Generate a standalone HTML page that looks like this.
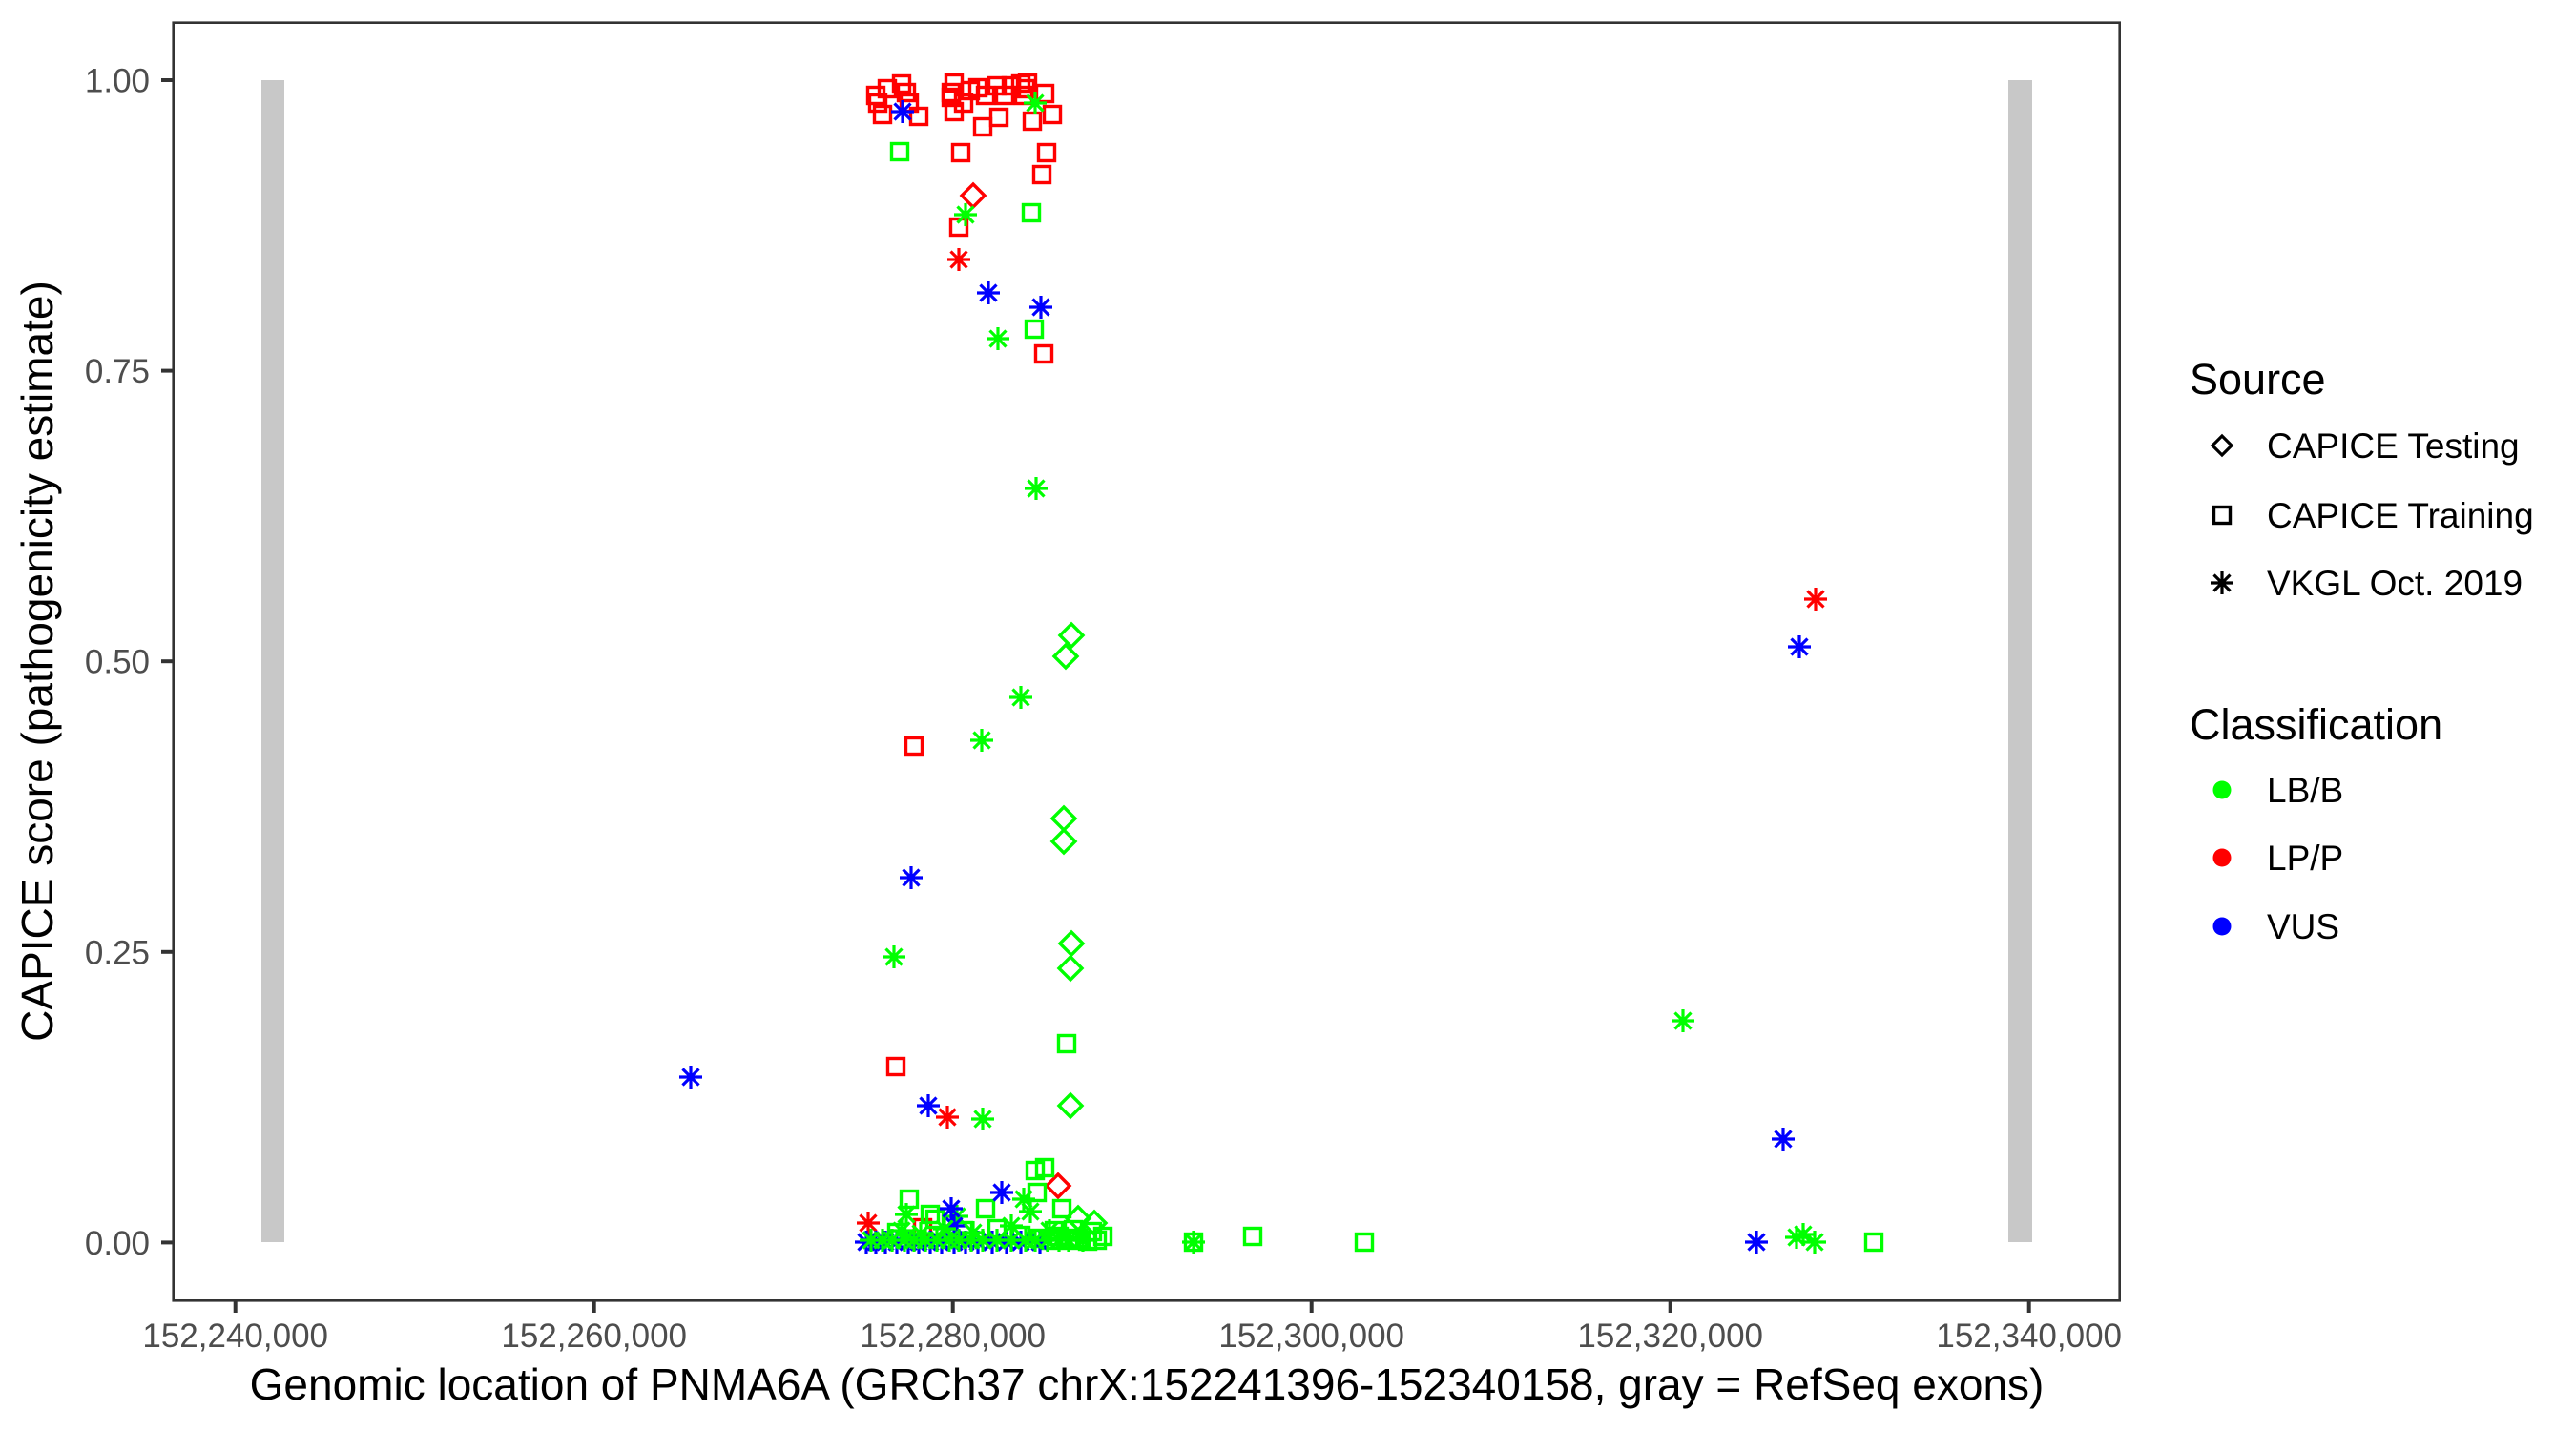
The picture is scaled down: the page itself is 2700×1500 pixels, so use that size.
<!DOCTYPE html>
<html><head><meta charset="utf-8"><style>
html,body{margin:0;padding:0;background:#fff;}
svg{display:block;}
text{font-family:"Liberation Sans",Arial,sans-serif;}
</style></head><body>
<svg width="2700" height="1500" viewBox="0 0 2700 1500" xmlns="http://www.w3.org/2000/svg">
<defs>
<rect id="sq" x="-8.5" y="-8.5" width="17" height="17" fill="none" stroke-width="3.4"/>
<path id="di" d="M0,-12 L12,0 L0,12 L-12,0 Z" fill="none" stroke-width="3.4"/>
<path id="as" d="M0,-12V12M-12,0H12M-8.5,-8.5L8.5,8.5M-8.5,8.5L8.5,-8.5" fill="none" stroke-width="3.2"/>
</defs>
<rect width="2700" height="1500" fill="#fff"/>
<rect x="274" y="84" width="24" height="1218" fill="#c8c8c8"/>
<rect x="2105" y="84" width="25" height="1218" fill="#c8c8c8"/>

<g stroke="#ff0000">
<use href="#sq" x="918" y="100"/><use href="#sq" x="930" y="93"/><use href="#sq" x="945" y="88"/><use href="#sq" x="950" y="97"/>
<use href="#sq" x="920" y="108"/><use href="#sq" x="925" y="120"/><use href="#sq" x="953" y="108"/><use href="#sq" x="963" y="122"/>
<use href="#sq" x="1000" y="87"/><use href="#sq" x="997" y="97"/><use href="#sq" x="1000" y="117"/><use href="#sq" x="1010" y="108"/>
<use href="#sq" x="1025" y="92"/><use href="#sq" x="1033" y="100"/><use href="#sq" x="1045" y="90"/><use href="#sq" x="1030" y="133"/>
<use href="#sq" x="1047" y="123"/><use href="#sq" x="1060" y="90"/><use href="#sq" x="1070" y="88"/><use href="#sq" x="1077" y="87"/>
<use href="#sq" x="1095" y="98"/><use href="#sq" x="1082" y="127"/><use href="#sq" x="1103" y="120"/><use href="#sq" x="1007" y="160"/>
<use href="#sq" x="1097" y="160"/><use href="#sq" x="1092" y="183"/><use href="#sq" x="1005" y="238"/><use href="#sq" x="1017" y="95"/>
<use href="#sq" x="1053" y="100"/><use href="#sq" x="1073" y="100"/><use href="#sq" x="997" y="102"/><use href="#sq" x="1075" y="93"/>
<use href="#sq" x="1094" y="371"/><use href="#sq" x="958" y="782"/><use href="#sq" x="939" y="1118"/><use href="#sq" x="967" y="1287"/>
<use href="#di" x="1020" y="205"/><use href="#di" x="1109" y="1243"/>
<use href="#as" x="1005" y="272"/><use href="#as" x="993" y="1171"/><use href="#as" x="910" y="1282"/><use href="#as" x="1903" y="628"/>
</g>

<g stroke="#00ff00">
<use href="#sq" x="943" y="159"/><use href="#sq" x="1081" y="223"/><use href="#sq" x="1084" y="345"/><use href="#sq" x="1118" y="1094"/>
<use href="#sq" x="1085" y="1227"/><use href="#sq" x="1095" y="1224"/><use href="#sq" x="1087" y="1250"/><use href="#sq" x="953" y="1257"/>
<use href="#sq" x="1033" y="1267"/><use href="#sq" x="1113" y="1267"/><use href="#sq" x="975" y="1273"/><use href="#sq" x="980" y="1278"/>
<use href="#sq" x="1090" y="1298"/><use href="#sq" x="1100" y="1300"/><use href="#sq" x="1110" y="1296"/><use href="#sq" x="1120" y="1300"/>
<use href="#sq" x="1130" y="1298"/><use href="#sq" x="1140" y="1301"/><use href="#sq" x="1150" y="1300"/><use href="#sq" x="1156" y="1296"/>
<use href="#sq" x="1105" y="1290"/><use href="#sq" x="1125" y="1289"/><use href="#sq" x="1145" y="1291"/><use href="#sq" x="940" y="1292"/>
<use href="#sq" x="1010" y="1290"/><use href="#sq" x="1045" y="1288"/><use href="#sq" x="1070" y="1295"/>
<use href="#sq" x="1251" y="1302"/><use href="#sq" x="1313" y="1296"/><use href="#sq" x="1430" y="1302"/><use href="#sq" x="1964" y="1302"/>
<use href="#di" x="1123" y="666"/><use href="#di" x="1117" y="688"/><use href="#di" x="1115" y="858"/><use href="#di" x="1115" y="882"/>
<use href="#di" x="1123" y="989"/><use href="#di" x="1122" y="1015"/><use href="#di" x="1122" y="1159"/><use href="#di" x="1130" y="1277"/>
<use href="#di" x="1147" y="1282"/>
<use href="#as" x="1085" y="108"/><use href="#as" x="1012" y="225"/><use href="#as" x="1046" y="355"/><use href="#as" x="1086" y="512"/>
<use href="#as" x="1070" y="731"/><use href="#as" x="1029" y="776"/><use href="#as" x="937" y="1003"/><use href="#as" x="1030" y="1173"/>
<use href="#as" x="1073" y="1257"/><use href="#as" x="950" y="1273"/><use href="#as" x="1003" y="1275"/><use href="#as" x="1764" y="1070"/>
<use href="#as" x="1251" y="1302"/><use href="#as" x="1883" y="1297"/><use href="#as" x="1890" y="1294"/><use href="#as" x="1902" y="1302"/>
</g>
<g stroke="#0000ff">
<use href="#as" x="908" y="1302"/><use href="#as" x="918" y="1302"/><use href="#as" x="928" y="1302"/><use href="#as" x="940" y="1302"/>
<use href="#as" x="952" y="1302"/><use href="#as" x="963" y="1302"/><use href="#as" x="975" y="1302"/><use href="#as" x="987" y="1302"/>
<use href="#as" x="1000" y="1302"/><use href="#as" x="1012" y="1302"/><use href="#as" x="1025" y="1302"/><use href="#as" x="1040" y="1302"/>
<use href="#as" x="1055" y="1302"/><use href="#as" x="1070" y="1302"/><use href="#as" x="1090" y="1302"/><use href="#as" x="1000" y="1285"/>
</g>
<g stroke="#00ff00">
<use href="#as" x="913" y="1300"/><use href="#as" x="925" y="1300"/><use href="#as" x="935" y="1300"/><use href="#as" x="948" y="1300"/>
<use href="#as" x="958" y="1300"/><use href="#as" x="970" y="1300"/><use href="#as" x="982" y="1300"/><use href="#as" x="995" y="1300"/>
<use href="#as" x="1005" y="1300"/><use href="#as" x="1018" y="1300"/><use href="#as" x="1030" y="1300"/><use href="#as" x="1045" y="1300"/>
<use href="#as" x="1060" y="1300"/><use href="#as" x="1075" y="1300"/><use href="#as" x="1085" y="1300"/><use href="#as" x="1098" y="1300"/>
<use href="#as" x="1110" y="1300"/><use href="#as" x="1120" y="1300"/><use href="#as" x="1135" y="1300"/>
<use href="#as" x="945" y="1290"/><use href="#as" x="990" y="1288"/><use href="#as" x="1060" y="1285"/><use href="#as" x="1080" y="1270"/>
<use href="#as" x="965" y="1293"/><use href="#as" x="1020" y="1292"/><use href="#as" x="1100" y="1290"/>
</g>
<g stroke="#0000ff">
<use href="#as" x="946" y="117"/><use href="#as" x="1036" y="307"/><use href="#as" x="1091" y="322"/><use href="#as" x="955" y="920"/>
<use href="#as" x="724" y="1129"/><use href="#as" x="973" y="1159"/><use href="#as" x="1050" y="1250"/><use href="#as" x="997" y="1267"/>
<use href="#as" x="1886" y="678"/><use href="#as" x="1869" y="1194"/><use href="#as" x="1841" y="1302"/>
</g>

<rect x="181.7" y="23.7" width="2040" height="1339.6" fill="none" stroke="#333" stroke-width="2.6"/>

<g stroke="#333" stroke-width="4">
<line x1="169" x2="181" y1="84" y2="84"/><line x1="169" x2="181" y1="388.6" y2="388.6"/>
<line x1="169" x2="181" y1="693.2" y2="693.2"/><line x1="169" x2="181" y1="997.8" y2="997.8"/>
<line x1="169" x2="181" y1="1302.4" y2="1302.4"/>
<line x1="246.7" x2="246.7" y1="1364" y2="1376"/><line x1="622.7" x2="622.7" y1="1364" y2="1376"/>
<line x1="998.7" x2="998.7" y1="1364" y2="1376"/><line x1="1374.7" x2="1374.7" y1="1364" y2="1376"/>
<line x1="1750.7" x2="1750.7" y1="1364" y2="1376"/><line x1="2126.7" x2="2126.7" y1="1364" y2="1376"/>
</g>
<g fill="#4d4d4d" font-size="35" text-anchor="end">
<text x="157" y="96.5">1.00</text><text x="157" y="401">0.75</text><text x="157" y="705.7">0.50</text>
<text x="157" y="1010.3">0.25</text><text x="157" y="1315">0.00</text>
</g>
<g fill="#4d4d4d" font-size="35" text-anchor="middle">
<text x="246.7" y="1412">152,240,000</text><text x="622.7" y="1412">152,260,000</text><text x="998.7" y="1412">152,280,000</text>
<text x="1374.7" y="1412">152,300,000</text><text x="1750.7" y="1412">152,320,000</text><text x="2126.7" y="1412">152,340,000</text>
</g>
<text x="1202" y="1467" font-size="46" text-anchor="middle" fill="#000">Genomic location of PNMA6A (GRCh37 chrX:152241396-152340158, gray = RefSeq exons)</text>
<text transform="translate(55,693) rotate(-90)" font-size="46" text-anchor="middle" fill="#000">CAPICE score (pathogenicity estimate)</text>

<text x="2295" y="413" font-size="45" fill="#000">Source</text>
<g stroke="#000">
<path d="M2329,457 L2339,467 L2329,477 L2319,467 Z" fill="none" stroke-width="3.2"/>
<use href="#sq" x="2329" y="540"/>
<use href="#as" x="2329" y="611"/>
</g>
<g font-size="37" fill="#000">
<text x="2376" y="480">CAPICE Testing</text>
<text x="2376" y="553">CAPICE Training</text>
<text x="2376" y="624">VKGL Oct. 2019</text>
</g>
<text x="2295" y="775" font-size="45" fill="#000">Classification</text>
<circle cx="2329" cy="828" r="9.5" fill="#00ff00"/>
<circle cx="2329" cy="899" r="9.5" fill="#ff0000"/>
<circle cx="2329" cy="971" r="9.5" fill="#0000ff"/>
<g font-size="37" fill="#000">
<text x="2376" y="841">LB/B</text>
<text x="2376" y="912">LP/P</text>
<text x="2376" y="984">VUS</text>
</g>
</svg>
</body></html>
